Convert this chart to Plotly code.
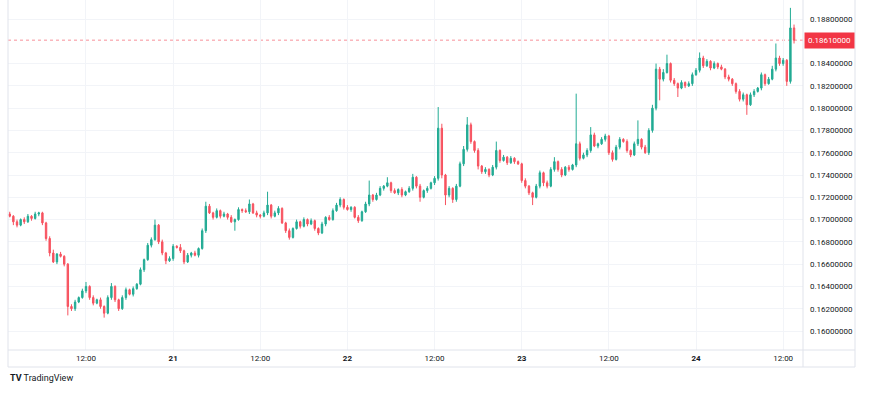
import pandas as pd
import plotly.graph_objects as go

# ---- data (prices in units of 0.0001) ----
first_open = 1705
closes = [
    1703, 1698, 1695, 1700, 1698, 1703, 1701, 1705, 1706, 1697,
    1683, 1670, 1662, 1669, 1667, 1660, 1622, 1620, 1626, 1630,
    1636, 1640, 1630, 1625, 1628, 1622, 1616, 1630, 1640, 1628,
    1620, 1630, 1637, 1633, 1638, 1642, 1655, 1664, 1677, 1682,
    1695, 1680, 1670, 1663, 1665, 1676, 1675, 1672, 1662, 1668,
    1670, 1668, 1674, 1690, 1712, 1706, 1702, 1708, 1703, 1705,
    1702, 1698, 1700, 1709, 1708, 1707, 1714, 1706, 1704, 1703,
    1706, 1713, 1703, 1706, 1710, 1697, 1690, 1684, 1692, 1698,
    1694, 1700, 1696, 1699, 1692, 1688, 1696, 1702, 1700, 1708,
    1713, 1718, 1711, 1709, 1711, 1702, 1699, 1707, 1714, 1722,
    1718, 1722, 1728, 1730, 1733, 1726, 1724, 1727, 1722, 1725,
    1728, 1738, 1730, 1720, 1726, 1728, 1733, 1737, 1782, 1740,
    1722, 1728, 1718, 1730, 1750, 1763, 1785, 1770, 1762, 1748,
    1743, 1745, 1740, 1747, 1762, 1753, 1756, 1751, 1755, 1752,
    1750, 1735, 1730, 1724, 1720, 1730, 1742, 1733, 1730, 1745,
    1752, 1745, 1740, 1747, 1745, 1749, 1768, 1755, 1758, 1762,
    1776, 1766, 1768, 1772, 1775, 1760, 1754, 1765, 1772, 1770,
    1762, 1758, 1768, 1772, 1765, 1760, 1780, 1800, 1835, 1826,
    1832, 1840, 1825, 1822, 1818, 1823, 1820, 1822, 1830, 1834,
    1845, 1838, 1842, 1836, 1840, 1837, 1835, 1828, 1826, 1822,
    1815, 1808, 1812, 1803, 1812, 1815, 1818, 1830, 1822, 1826,
    1835, 1845, 1840, 1843, 1824, 1872, 1861,
]
upper_wick = [
    2, 1, 2, 1, 2, 2, 1, 2, 1, 1,
    1, 2, 3, 1, 2, 1, 1, 2, 2, 1,
    2, 4, 1, 2, 1, 2, 1, 2, 3, 1,
    1, 2, 2, 1, 2, 1, 2, 1, 2, 2,
    5, 1, 2, 1, 2, 2, 1, 3, 1, 2,
    1, 2, 1, 2, 4, 2, 1, 2, 1, 2,
    1, 2, 1, 2, 1, 2, 4, 1, 2, 1,
    2, 12, 1, 2, 2, 1, 1, 2, 1, 2,
    1, 2, 1, 2, 1, 1, 2, 1, 2, 2,
    2, 2, 1, 2, 1, 1, 2, 1, 2, 13,
    1, 2, 2, 1, 5, 1, 2, 1, 2, 1,
    2, 3, 1, 2, 1, 2, 1, 2, 19, 4,
    1, 2, 1, 2, 2, 3, 7, 2, 1, 2,
    1, 2, 1, 2, 8, 1, 2, 1, 2, 1,
    1, 1, 2, 1, 1, 2, 2, 1, 2, 2,
    4, 1, 2, 1, 2, 1, 45, 2, 2, 2,
    7, 2, 1, 2, 2, 1, 2, 2, 2, 1,
    2, 1, 2, 17, 1, 2, 2, 3, 5, 2,
    3, 8, 1, 2, 1, 2, 1, 2, 2, 2,
    5, 2, 2, 1, 2, 1, 2, 1, 2, 1,
    1, 2, 2, 1, 2, 2, 1, 2, 1, 2,
    3, 13, 2, 2, 1, 18, 3,
]
lower_wick = [
    1, 3, 2, 1, 2, 1, 2, 1, 2, 2,
    2, 3, 1, 2, 1, 2, 8, 2, 2, 1,
    1, 2, 2, 2, 1, 2, 4, 1, 2, 2,
    2, 1, 2, 1, 2, 1, 1, 2, 1, 2,
    1, 2, 2, 3, 1, 2, 1, 2, 2, 1,
    2, 1, 2, 1, 2, 1, 2, 1, 2, 1,
    2, 1, 8, 1, 2, 1, 2, 1, 2, 2,
    1, 2, 2, 1, 2, 1, 2, 2, 1, 1,
    2, 1, 2, 1, 2, 2, 1, 2, 1, 1,
    1, 2, 2, 1, 2, 1, 2, 1, 1, 2,
    2, 1, 1, 2, 1, 2, 1, 2, 2, 1,
    1, 2, 2, 4, 1, 2, 1, 2, 2, 3,
    9, 2, 3, 2, 1, 2, 2, 2, 2, 3,
    2, 2, 2, 1, 2, 2, 1, 2, 1, 2,
    1, 2, 2, 2, 7, 1, 2, 3, 2, 1,
    2, 2, 2, 1, 2, 1, 2, 2, 1, 2,
    2, 1, 2, 1, 2, 2, 2, 1, 2, 1,
    2, 2, 1, 2, 2, 1, 2, 2, 2, 19,
    2, 1, 2, 2, 8, 1, 2, 1, 2, 1,
    2, 2, 1, 2, 1, 2, 1, 2, 2, 2,
    2, 2, 2, 9, 1, 2, 1, 2, 2, 1,
    1, 2, 2, 2, 4, 2, 3,
]
start_time = "2024-11-20 01:30"
last_price = 0.1861
last_price_label = "0.18610000"
# 0.186 label is hidden behind the last-price tag in the reference
price_ticks = [0.160, 0.162, 0.164, 0.166, 0.168, 0.170, 0.172, 0.174,
               0.176, 0.178, 0.180, 0.182, 0.184, 0.188]
time_tick_vals = ["2024-11-20 12:00", "2024-11-21 00:00", "2024-11-21 12:00",
                  "2024-11-22 00:00", "2024-11-22 12:00", "2024-11-23 00:00",
                  "2024-11-23 12:00", "2024-11-24 00:00", "2024-11-24 12:00"]
time_tick_text = ["12:00", "<b>21</b>", "12:00", "<b>22</b>", "12:00",
                  "<b>23</b>", "12:00", "<b>24</b>", "12:00"]

# ---- build OHLC ----
unit = 0.0001
opens = [first_open] + closes[:-1]
o = [v * unit for v in opens]
c = [v * unit for v in closes]
h = [(max(a, b) + u) * unit for a, b, u in zip(opens, closes, upper_wick)]
l = [(min(a, b) - d) * unit for a, b, d in zip(opens, closes, lower_wick)]
times = pd.date_range(start_time, periods=len(closes), freq="30min")

UP = "#22ab94"
DOWN = "#f7525f"
TAG = "#f23645"
GRID = "#f2f4f8"
BORDER = "#e0e3eb"
TXT = "#131722"

fig = go.Figure(go.Candlestick(
    x=times, open=o, high=h, low=l, close=c,
    increasing=dict(line=dict(color=UP, width=1), fillcolor=UP),
    decreasing=dict(line=dict(color=DOWN, width=1), fillcolor=DOWN),
    whiskerwidth=0, hoverinfo="skip",
))

W, H = 869, 397
L, R, T, B = 8, 803, 0, 350
pw, ph = R - L, B - T

def px(xp):
    return (xp - L) / pw

def py(yp):
    return (B - yp) / ph

shapes = []
def line(x0, y0, x1, y1, color=BORDER):
    shapes.append(dict(type="line", xref="paper", yref="paper",
                       x0=px(x0), y0=py(y0), x1=px(x1), y1=py(y1),
                       line=dict(color=color, width=1), layer="above"))

line(8, 0, 8, 367)
line(855, 0, 855, 367)
line(8, 367, 855, 367)
line(8, 350, 855, 350)
line(803, 0, 803, 367)

shapes.append(dict(type="line", xref="paper", yref="y", x0=0, x1=1,
                   y0=last_price, y1=last_price,
                   line=dict(color="rgba(242,54,69,0.55)", width=1, dash="dot"),
                   layer="below"))

y_top = 0.188 + 19 / 11143
y_bot = 0.160 - 19 / 11143

fig.update_layout(
    width=W, height=H,
    margin=dict(l=L, r=W - R, t=T, b=H - B, autoexpand=False),
    paper_bgcolor="white", plot_bgcolor="white",
    showlegend=False,
    boxgap=0.45,
    font=dict(family="Roboto, DejaVu Sans, sans-serif", size=8, color=TXT),
    shapes=shapes,
    xaxis=dict(
        type="date", rangeslider=dict(visible=False),
        range=["2024-11-20 01:15:36", "2024-11-24 14:44:00"],
        tickvals=time_tick_vals, ticktext=time_tick_text,
        showgrid=True, gridcolor=GRID, gridwidth=1,
        zeroline=False, showline=False, ticks="",
        tickfont=dict(size=8, color=TXT),
        ticklabelstandoff=2,
    ),
    yaxis=dict(
        side="right", range=[y_bot, y_top],
        tickvals=price_ticks, tickformat=".8f",
        showgrid=True, gridcolor=GRID, gridwidth=1,
        zeroline=False, showline=False, ticks="",
        ticklabelstandoff=6,
        tickfont=dict(size=8, color=TXT),
    ),
    annotations=[
        dict(xref="paper", yref="y", x=px(804), y=last_price,
             xanchor="left", yanchor="middle", text=last_price_label,
             showarrow=False, bgcolor=TAG, borderpad=3,
             font=dict(size=8, color="white")),
        dict(xref="paper", yref="paper", x=px(8), y=py(378),
             xanchor="left", yanchor="middle",
             text="<b>TV</b> TradingView", showarrow=False,
             font=dict(size=9, color=TXT)),
    ],
)

fig.write_html("out.html", config=dict(displayModeBar=False),
               post_script="document.body.style.margin='0';document.body.style.overflow='hidden';")
